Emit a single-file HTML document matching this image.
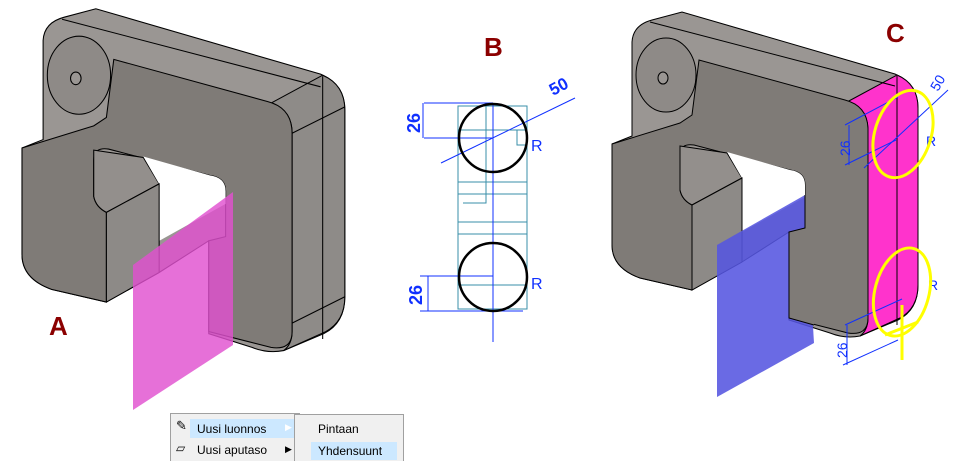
<!DOCTYPE html>
<html><head><meta charset="utf-8"><style>
html,body{margin:0;padding:0;background:#fff;width:965px;height:460px;overflow:hidden}
svg{position:absolute;left:0;top:0}
.m{font-family:"Liberation Sans",sans-serif;font-size:12px;position:absolute;color:#000}
</style></head><body>
<svg width="965" height="460" viewBox="0 0 965 460">

<!-- A -->
<g transform="translate(22,148) scale(1.055) translate(-612,-144)">
  <path d="M612,144 L632,136 L632,42 Q633,25 652,20 L682,12 L895,74 Q918,84 918,108 L918,285 Q918,310 898,320 L860,336 Q845,339 830,333 L789,320 L789,232 L742,262 L692,290 L640,278 Q612,268 612,245 Z" fill="#9a9693" stroke="#000"/>
  <path d="M847,102 L897,75 Q918,84 918,108 L918,285 Q918,308 900,318 L860,336 Q868,330 868,318 L868,130 Q868,108 847,102 Z" fill="#8e8b88" stroke="#000"/>
  <line x1="897" y1="76" x2="897" y2="325" stroke="#000"/>
  <line x1="868" y1="130" x2="918" y2="105" stroke="#000"/>
  <line x1="868" y1="310" x2="918" y2="285" stroke="#000"/>
  <path d="M612,144 L680,123 L692,115 L699,60 L845,100 Q868,106 868,130 L868,318 Q868,336 848,333 L789,318 L789,232 L805,228 L805,185 Q805,172 790,170 L694,145 Q680,143 680,155 L680,190 Q682,200 692,205 L692,290 L640,278 Q612,268 612,245 Z" fill="#7f7b77" stroke="#000"/>
  <ellipse cx="666" cy="75" rx="30" ry="37" fill="#8e8a87" stroke="#000"/>
  <ellipse cx="663" cy="78" rx="5" ry="6" fill="#9a9693" stroke="#000"/>
  <line x1="650" y1="22" x2="895" y2="86" stroke="#000"/>
  <path d="M680,146 L727,153 L742,178 L692,205 Q682,200 680,190 Z" fill="#938f8c" stroke="#000"/>
  <path d="M727,152 L790,170 Q805,172 805,185 L805,197 L742,232 L742,178 Z" fill="#fff"/>
  <path d="M692,205 L742,178 L742,262 L692,290 Z" fill="#8d8a87" stroke="#000"/>
</g>
<path d="M133,265 L233,192 L233,345 L133,410 Z" fill="#e050d0" fill-opacity="0.82"/>

<!-- C -->
<g>
  <path d="M612,144 L632,136 L632,42 Q633,25 652,20 L682,12 L895,74 Q918,84 918,108 L918,285 Q918,310 898,320 L860,336 Q845,339 830,333 L789,320 L789,232 L742,262 L692,290 L640,278 Q612,268 612,245 Z" fill="#9a9693" stroke="#000"/>
  <path d="M847,102 L897,75 Q918,84 918,108 L918,285 Q918,308 900,318 L860,336 Q868,330 868,318 L868,130 Q868,108 847,102 Z" fill="#ff33cc" stroke="#000"/>
  <line x1="897" y1="76" x2="897" y2="325" stroke="#000"/>
  <path d="M612,144 L680,123 L692,115 L699,60 L845,100 Q868,106 868,130 L868,318 Q868,336 848,333 L789,318 L789,232 L805,228 L805,185 Q805,172 790,170 L694,145 Q680,143 680,155 L680,190 Q682,200 692,205 L692,290 L640,278 Q612,268 612,245 Z" fill="#7f7b77" stroke="#000"/>
  <ellipse cx="666" cy="75" rx="30" ry="37" fill="#8e8a87" stroke="#000"/>
  <ellipse cx="663" cy="78" rx="5" ry="6" fill="#9a9693" stroke="#000"/>
  <line x1="650" y1="22" x2="895" y2="86" stroke="#000"/>
  <path d="M680,146 L727,153 L742,178 L692,205 Q682,200 680,190 Z" fill="#938f8c" stroke="#000"/>
  <path d="M727,152 L790,170 Q805,172 805,185 L805,197 L742,232 L742,178 Z" fill="#fff"/>
  <path d="M692,205 L742,178 L742,262 L692,290 Z" fill="#8d8a87" stroke="#000"/>
  <path d="M717,245 L805,195 L814,343 L717,397 Z" fill="#5555e0" fill-opacity="0.88"/>
  <path d="M789,232 L805,228 L805,195 L814,195 L814,325 L789,318 Z" fill="#7f7b77"/>
  <path d="M805,195 L805,228 L789,232 L789,318 L814,325" fill="none" stroke="#000"/>
</g>
<g stroke="#1030ff" stroke-width="1" fill="none">
  <line x1="845" y1="125" x2="898" y2="97"/>
  <line x1="845" y1="165" x2="896" y2="140"/>
  <line x1="849" y1="125" x2="849" y2="165"/>
  <line x1="864" y1="168" x2="948" y2="90"/>
  <line x1="845" y1="325" x2="902" y2="299"/>
  <line x1="843" y1="365" x2="898" y2="340"/>
  <line x1="847" y1="325" x2="847" y2="365"/>
</g>
<g fill="#1030ff" font-family="Liberation Sans,sans-serif" font-size="14">
  <text transform="translate(850,156) rotate(-90)">26</text>
  <text transform="translate(847,358) rotate(-90)">26</text>
  <text transform="translate(938,92) rotate(-60)">50</text>
  <text x="926" y="146">R</text>
  <text x="928" y="290">R</text>
</g>
<g stroke="#ffff00" stroke-width="3" fill="none">
  <ellipse cx="903" cy="134" rx="28" ry="45" transform="rotate(18 903 134)"/>
  <ellipse cx="902" cy="292" rx="27" ry="45" transform="rotate(15 902 292)"/>
  <line x1="902" y1="305" x2="902" y2="360"/>
  <line x1="885" y1="335" x2="918" y2="322"/>
</g>

<!-- B -->
<g stroke="#3a8fa8" stroke-width="1" fill="none">
  <rect x="458" y="106" width="69" height="203"/>
  <line x1="458" y1="182" x2="527" y2="182"/>
  <line x1="458" y1="194" x2="527" y2="194"/>
  <line x1="458" y1="222" x2="527" y2="222"/>
  <line x1="458" y1="234" x2="527" y2="234"/>
  <line x1="458" y1="285" x2="527" y2="285"/>
  <line x1="458" y1="130" x2="527" y2="130"/>
  <path d="M486,106 L486,203 L463,203"/>
  <rect x="517" y="130" width="10" height="15"/>
</g>
<g stroke="#1030ff" stroke-width="1" fill="none">
  <line x1="493" y1="103" x2="493" y2="342"/>
  <line x1="424" y1="103" x2="493" y2="103"/>
  <line x1="424" y1="138" x2="493" y2="138"/>
  <line x1="423" y1="103" x2="423" y2="138"/>
  <line x1="420" y1="276" x2="493" y2="276"/>
  <line x1="420" y1="311" x2="523" y2="311"/>
  <line x1="428" y1="276" x2="428" y2="311"/>
  <line x1="441" y1="163" x2="575" y2="98"/>
</g>
<circle cx="493" cy="138" r="34" fill="none" stroke="#000" stroke-width="2.5"/>
<circle cx="493" cy="277" r="34" fill="none" stroke="#000" stroke-width="2.5"/>
<g fill="#1030ff" font-family="Liberation Sans,sans-serif">
  <text transform="translate(420,133) rotate(-90)" font-size="18" font-weight="bold">26</text>
  <text transform="translate(422,305) rotate(-90)" font-size="18" font-weight="bold">26</text>
  <text transform="translate(553,96) rotate(-28)" font-size="17" font-weight="bold">50</text>
  <text x="531" y="151" font-size="16">R</text>
  <text x="531" y="289" font-size="16">R</text>
</g>

<g fill="#8b0000" font-family="Liberation Sans,sans-serif" font-size="26" font-weight="bold">
  <text x="49" y="335">A</text>
  <text x="484" y="56">B</text>
  <text x="886" y="42">C</text>
</g>
</svg>

<div style="position:absolute;left:170px;top:413px;width:128px;height:47px;background:#f0f0f0;border:1px solid #a0a0a0;border-bottom:none"></div>
<div style="position:absolute;left:190px;top:419px;width:104px;height:19px;background:#cce8ff"></div>
<div class="m" style="left:176px;top:418px;font-size:13px">&#9998;</div>
<div class="m" style="left:176px;top:441px;font-size:12px">&#9649;</div>
<div class="m" style="left:197px;top:422px">Uusi luonnos</div>
<div class="m" style="left:197px;top:443px">Uusi aputaso</div>
<div class="m" style="left:285px;top:422px;font-size:9px;color:#fff">&#9654;</div>
<div class="m" style="left:285px;top:444px;font-size:9px">&#9654;</div>
<div style="position:absolute;left:294px;top:414px;width:108px;height:46px;background:#f0f0f0;border:1px solid #a0a0a0;border-bottom:none"></div>
<div style="position:absolute;left:311px;top:442px;width:86px;height:18px;background:#cce8ff"></div>
<div class="m" style="left:318px;top:422px">Pintaan</div>
<div class="m" style="left:318px;top:444px">Yhdensuunt</div>
</body></html>
